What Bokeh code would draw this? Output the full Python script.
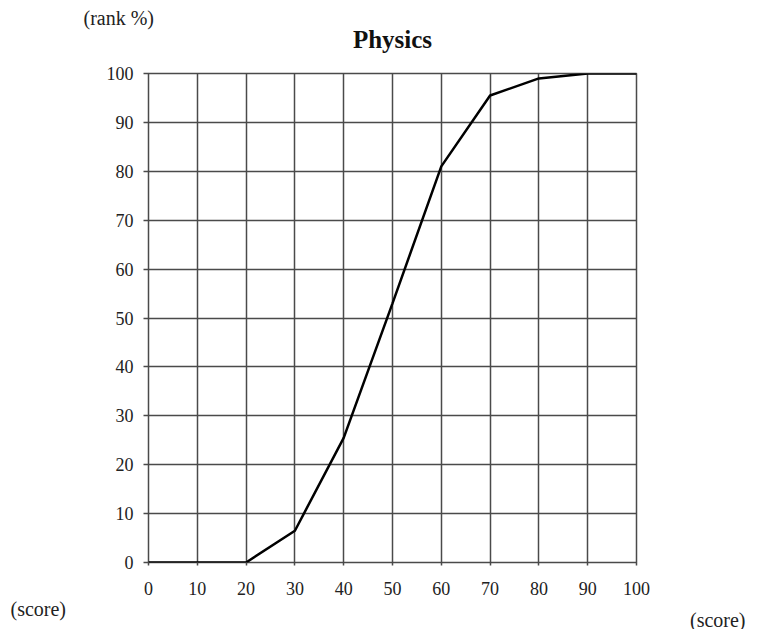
from bokeh.plotting import figure
from bokeh.models import Title, FixedTicker, Range1d
from bokeh.embed import file_html
from bokeh.resources import INLINE

scores = [0, 10, 20, 30, 40, 50, 60, 70, 80, 90, 100]
rank_pct = [0, 0, 0, 6.5, 25.5, 53, 81, 95.5, 99, 100, 100]
x_ticks = [0, 10, 20, 30, 40, 50, 60, 70, 80, 90, 100]
y_ticks = [0, 10, 20, 30, 40, 50, 60, 70, 80, 90, 100]

FONT = "Liberation Serif"
GRID = "#4a4a4a"

p = figure(width=752, height=629, output_backend="svg", toolbar_location=None,
           x_range=Range1d(0, 100), y_range=Range1d(0, 100),
           min_border_left=148, min_border_right=116, min_border_top=73, min_border_bottom=67)
p.title_location = None
p.background_fill_color = "white"
p.border_fill_color = "white"
p.outline_line_color = GRID
p.outline_line_width = 1.5

for ax in (p.xaxis[0], p.yaxis[0]):
    ax.axis_line_color = None
    ax.major_tick_line_color = GRID
    ax.major_tick_line_width = 1.5
    ax.major_tick_in = 0
    ax.minor_tick_line_color = None
    ax.major_label_text_font = FONT
    ax.major_label_text_font_size = "18px"
    ax.major_label_text_color = "#222222"
p.xaxis.ticker = FixedTicker(ticks=x_ticks)
p.yaxis.ticker = FixedTicker(ticks=y_ticks)
p.xaxis.major_tick_out = 3
p.yaxis.major_tick_out = 5
p.xaxis.major_label_standoff = 16
p.yaxis.major_label_standoff = 10

p.xgrid.ticker = FixedTicker(ticks=x_ticks)
p.ygrid.ticker = FixedTicker(ticks=y_ticks)
for g in (p.xgrid[0], p.ygrid[0]):
    g.grid_line_color = GRID
    g.grid_line_width = 1.5
    g.grid_line_alpha = 1.0

p.line(scores, rank_pct, line_color="black", line_width=2.5)

p.add_layout(Title(text="Physics", align="center", standoff=41,
                   text_font=FONT, text_font_style="bold", text_font_size="25px",
                   text_color="#111111"), "above")
p.add_layout(Title(text="(rank %)", align="left", offset=-65, standoff=-51,
                   text_font=FONT, text_font_style="normal", text_font_size="20px",
                   text_color="#222222"), "above")
p.add_layout(Title(text="(score)", align="left", offset=-138, standoff=-3,
                   text_font=FONT, text_font_style="normal", text_font_size="20px",
                   text_color="#222222"), "below")
p.add_layout(Title(text="(score)", align="right", offset=-109, standoff=-24,
                   text_font=FONT, text_font_style="normal", text_font_size="20px",
                   text_color="#222222"), "below")

open("out.html", "w").write(file_html(p, INLINE))
